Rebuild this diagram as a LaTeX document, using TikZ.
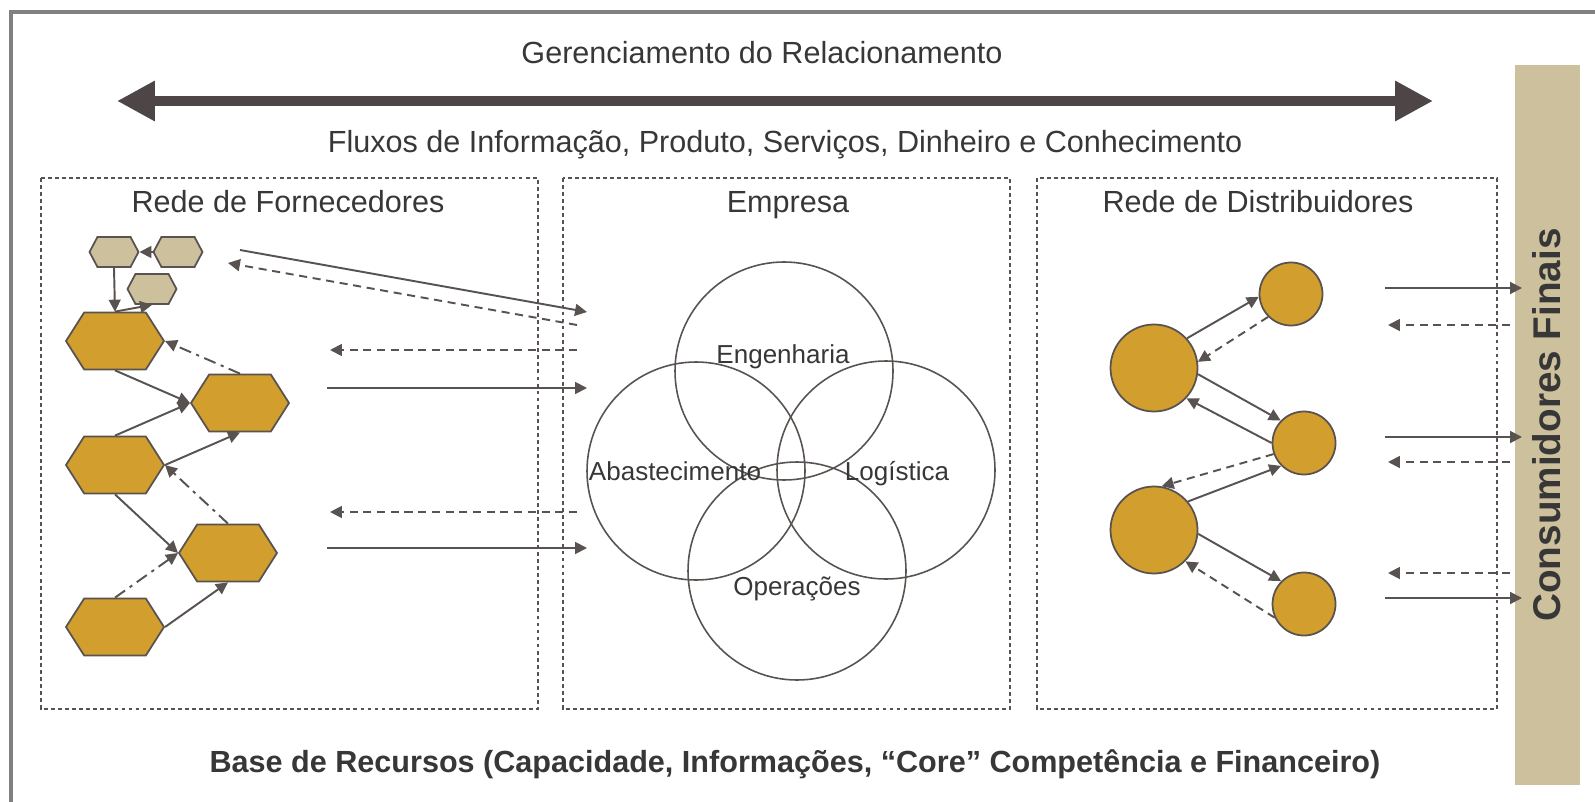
\documentclass[tikz,border=0pt]{standalone}
\usepackage{fontspec}
\setmainfont{Liberation Sans}
\usetikzlibrary{arrows.meta,shapes.symbols}

\definecolor{gold}{RGB}{210,158,45}
\definecolor{sand}{RGB}{205,192,156}
\definecolor{edgegray}{RGB}{88,83,80}
\definecolor{txtgray}{RGB}{55,55,55}
\definecolor{bigarrow}{RGB}{78,70,70}

\begin{document}
\begin{tikzpicture}[x=0.1mm, y=-0.1mm,
    tip/.style={-{Triangle[length=3.4pt,width=3.4pt]}},
    flow/.style={draw=edgegray, line width=0.55pt, tip},
    back/.style={flow, dash pattern=on 2.3pt off 1.6pt},
    dashdot/.style={flow, dash pattern=on 3.5pt off 1.6pt on 0.9pt off 1.6pt},
    dotbox/.style={draw=edgegray, line width=0.45pt, dash pattern=on 1.1pt off 0.9pt},
    heading/.style={text=txtgray, anchor=base, font=\fontsize{8.7}{10}\selectfont}]
\useasboundingbox (0,0) rectangle (1595,802);

\draw[line width=0.9pt, draw=gray] (1600,12) -- (11,12) -- (11,810);

\coordinate (gl) at (117,101);
\coordinate (gr) at (1433,101);
\draw[draw=bigarrow, line width=3.1pt,
    {Triangle[length=10.8pt,width=10.8pt]}-{Triangle[length=10.8pt,width=10.8pt]}] (gl) -- (gr);

\node[heading] (ger) at (762,64) {Gerenciamento do Relacionamento};
\node[heading] (flx) at (785,152) {Fluxos de Informação, Produto, Serviços, Dinheiro e Conhecimento};

\draw[dotbox] (41,178) rectangle (538,709);
\draw[dotbox] (563,178) rectangle (1010,709);
\draw[dotbox] (1037,178) rectangle (1497,709);

\node[heading] (forn) at (288,213) {Rede de Fornecedores};
\node[heading] (emp) at (788,213) {Empresa};
\node[heading] (dist) at (1258,213) {Rede de Distribuidores};

\node[heading, font=\bfseries\fontsize{8.7}{10}\selectfont] (base) at (795,772)
    {Base de Recursos (Capacidade, Informações, “Core” Competência e Financeiro)};

\node[fill=sand, rotate=90, minimum width=72mm, minimum height=6.5mm, inner sep=0pt,
    text=txtgray, font=\bfseries\fontsize{11}{13}\selectfont] (cons) at (1547,425) {Consumidores Finais};

\begin{scope}
    \tikzstyle{every node}=[signal, signal to=east and west, draw=edgegray, line width=0.5pt, inner sep=0pt]
    \tikzstyle{small}=[fill=sand, minimum width=4.9mm, minimum height=3mm, signal pointer angle=124]
    \tikzstyle{big}=[fill=gold, minimum width=9.8mm, minimum height=5.7mm, signal pointer angle=115]
    \node[small] (sA) at (114,252) {};
    \node[small] (sB) at (178,252) {};
    \node[small] (sC) at (152,289) {};
    \node[big] (s1) at (115,341) {};
    \node[big] (s2) at (240,403) {};
    \node[big] (s3) at (115,465) {};
    \node[big] (s4) at (228,553) {};
    \node[big] (s5) at (115,627) {};
\end{scope}
\begin{scope}
    \tikzstyle{every edge}=[flow]
    \path
    (sB.west) edge (sA.east)
    (sA.south) edge (s1.north)
    (s1.north) edge (sC.south)
    (s1.south) edge (s2.west)
    (s3.north) edge (s2.west)
    (s3.east) edge (s2.south)
    (s3.south) edge (s4.west)
    (s5.east) edge (s4.south)
    (s2.north) edge[dashdot] (s1.east)
    (s4.north) edge[dashdot] (s3.east)
    (s5.north) edge[dashdot] (s4.west);
\end{scope}

\begin{scope}
    \tikzstyle{every node}=[circle, draw=edgegray, line width=0.45pt, minimum size=21.8mm, inner sep=0pt]
    \node (eng) at (784,371) {};
    \node (aba) at (696,471) {};
    \node (log) at (886,470) {};
    \node (ope) at (797,571) {};
\end{scope}
\begin{scope}
    \tikzstyle{every node}=[text=txtgray, anchor=base, font=\fontsize{7.4}{9}\selectfont, inner sep=0pt]
    \node (engt) at (783,363) {Engenharia};
    \node (abat) at (675,480) {Abastecimento};
    \node (logt) at (897,480) {Logística};
    \node (opet) at (797,595) {Operações};
\end{scope}

\begin{scope}
    \tikzstyle{every node}=[circle, fill=gold, draw=edgegray, line width=0.5pt, inner sep=0pt]
    \node[minimum size=8.7mm] (d1) at (1154,368) {};
    \node[minimum size=8.7mm] (d2) at (1154,530) {};
    \node[minimum size=6.3mm] (c1) at (1291,294) {};
    \node[minimum size=6.3mm] (c2) at (1304,443) {};
    \node[minimum size=6.3mm] (c3) at (1304,604) {};
\end{scope}
\begin{scope}
    \tikzstyle{every edge}=[flow]
    \path
    (d1.42) edge (c1.185)
    (c1.225) edge[back] (d1.8)
    (d1.-8) edge (c2.136)
    (c2.180) edge (d1.-43)
    (c2.200) edge[back] (d2.80)
    (d2.40) edge (c2.225)
    (d2.-5) edge (c3.135)
    (c3.205) edge[back] (d2.-45);
\end{scope}

\coordinate (f1a) at (240,250);
\coordinate (f1b) at (587,312);
\coordinate (f2a) at (577,325);
\coordinate (f2b) at (228,263);
\foreach \n/\y in {f3/350, f5/512} {
    \coordinate (\n a) at (577,\y);
    \coordinate (\n b) at (330,\y);
}
\foreach \n/\y in {f4/388, f6/548} {
    \coordinate (\n a) at (327,\y);
    \coordinate (\n b) at (587,\y);
}
\foreach \n/\y in {k1/288, k3/437, k6/598} {
    \coordinate (\n a) at (1385,\y);
    \coordinate (\n b) at (1522,\y);
}
\foreach \n/\y in {k2/325, k4/462, k5/573} {
    \coordinate (\n a) at (1510,\y);
    \coordinate (\n b) at (1388,\y);
}
\begin{scope}
    \tikzstyle{every edge}=[flow]
    \path
    (f1a) edge (f1b)
    (f2a) edge[back] (f2b)
    (f3a) edge[back] (f3b)
    (f4a) edge (f4b)
    (f5a) edge[back] (f5b)
    (f6a) edge (f6b)
    (k1a) edge (k1b)
    (k2a) edge[back] (k2b)
    (k3a) edge (k3b)
    (k4a) edge[back] (k4b)
    (k5a) edge[back] (k5b)
    (k6a) edge (k6b);
\end{scope}
\end{tikzpicture}
\end{document}
